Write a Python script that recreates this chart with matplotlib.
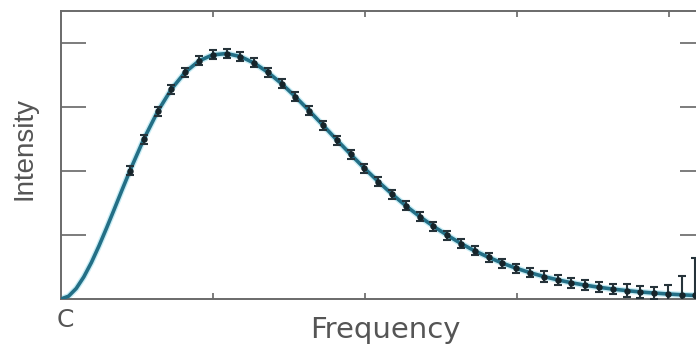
import numpy as np
import matplotlib
matplotlib.use("Agg")
import matplotlib.pyplot as plt

# measured spectrum (frequency in 1/cm, intensity in MJy/sr)
freq = [2.27, 2.72, 3.18, 3.63, 4.08, 4.54, 4.99, 5.45, 5.90, 6.35, 6.81,
        7.26, 7.71, 8.17, 8.62, 9.08, 9.53, 9.98, 10.44, 10.89, 11.34,
        11.80, 12.25, 12.71, 13.16, 13.61, 14.07, 14.52, 14.97, 15.43,
        15.88, 16.34, 16.79, 17.24, 17.70, 18.15, 18.61, 19.06, 19.51,
        19.97, 20.42, 20.87, 21.33]
intensity = [200.7, 249.5, 293.0, 327.8, 354.1, 372.1, 381.5, 383.5, 378.9,
             368.8, 354.1, 336.3, 316.1, 293.9, 271.4, 248.2, 225.9, 204.3,
             183.3, 163.8, 145.8, 128.8, 113.6, 99.5, 86.6, 75.1, 65.1, 56.0,
             48.1, 41.1, 35.1, 29.9, 25.4, 21.6, 18.3, 15.5, 13.1, 11.0, 9.3,
             7.8, 6.6, 5.5, 4.7]
err = [7, 7, 7, 7, 7, 7, 7, 7, 7, 7, 7, 7, 7, 7, 7, 7, 7, 7, 7, 7, 7, 7,
       7, 7, 7, 7, 7, 7, 7, 7, 8, 8, 8, 8, 8, 8, 10, 10, 10, 14, 30, 58, 90]

# fitted curve
curve_freq = [0.0, 0.25, 0.5, 0.75, 1.0, 1.25, 1.5, 1.75, 2.0] + freq + [21.8]
curve_int = [0.0, 4.4, 16.4, 34.5, 57.0, 83.0, 111.0, 140.0, 169.5] + intensity + [3.9]

W, H = 696, 345
fig = plt.figure(figsize=(W / 100, H / 100), dpi=100)
ax = fig.add_axes([61 / W, (H - 299) / H, (705 - 61) / W, (299 - 11) / H])

ax.plot(curve_freq, curve_int, color="#c8edf5", lw=4.5, zorder=2)
ax.plot(curve_freq, curve_int, color="#236f86", lw=2.6, zorder=3)
ax.errorbar(freq, intensity, yerr=err, fmt="o", ms=3.6, color="#16242a",
            ecolor="#26333a", elinewidth=1.5, capsize=3, capthick=1.5, zorder=4)

ax.set_xlim(0, (705 - 61) / 30.4)
ax.set_ylim(0, 450)
ax.set_xticks([5, 10, 15, 20])
ax.set_yticks([100, 200, 300, 400])
ax.tick_params(axis="y", direction="in", length=18, width=1.2, color="#666666",
               left=True, right=True, labelleft=False)
ax.tick_params(axis="x", direction="in", length=4.3, width=1.2, color="#666666",
               top=True, bottom=True, labelbottom=False)
for s in ax.spines.values():
    s.set_color("#6a6a6a")
    s.set_linewidth(1.4)

fig.text(385 / W, (H - 338) / H, "Frequency", ha="center", va="baseline",
         fontsize=21, color="#555555", family="DejaVu Sans")
fig.text(65 / W, (H - 327) / H, "C", ha="center", va="baseline",
         fontsize=18, color="#555555", family="DejaVu Sans")
fig.text(12 / W, (H - 148.5) / H, "Intensity", rotation=90, ha="left", va="center",
         fontsize=20, color="#555555", family="Liberation Sans")

fig.savefig("out.png", dpi=100)
